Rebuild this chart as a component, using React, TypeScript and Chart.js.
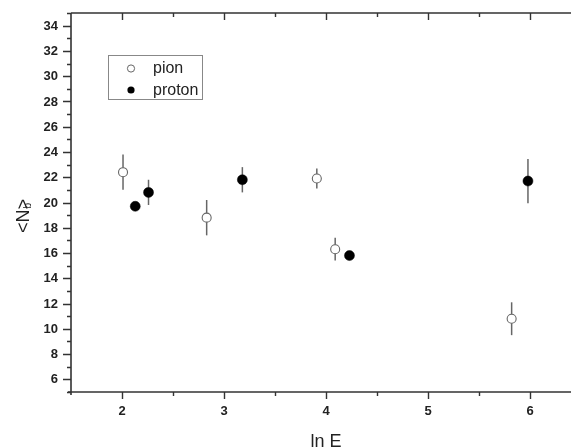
import React, { useEffect, useRef } from "react";
import { Chart, registerables } from "chart.js";

Chart.register(...registerables);

const pionX = [2.01, 2.83, 3.91, 4.09, 5.82];
const pionY = [22.4, 18.8, 21.9, 16.3, 10.8];
const pionErr = [1.4, 1.4, 0.8, 0.9, 1.3];

const protonX = [2.13, 2.26, 3.18, 4.23, 5.98];
const protonY = [19.7, 20.8, 21.8, 15.8, 21.7];
const protonErr = [0.3, 1.0, 1.0, 0.3, 1.75];

const xTickLabels = [2, 3, 4, 5, 6];
const xMinorTicks = [2.5, 3.5, 4.5, 5.5];
const yTickLabels = [6, 8, 10, 12, 14, 16, 18, 20, 22, 24, 26, 28, 30, 32, 34];
const yMinorTicks = [5, 7, 9, 11, 13, 15, 17, 19, 21, 23, 25, 27, 29, 31, 33, 35];

const seriesNames = ["pion", "proton"];
const xTitle = "ln E";
const FONT = "'Liberation Sans', Arial, sans-serif";
const AXIS = "#333333";

const errorBarPlugin = {
  id: "errorBars",
  beforeDatasetsDraw(chart: any) {
    const ctx = chart.ctx;
    const xs = chart.scales.x;
    const ys = chart.scales.y;
    const sets = [
      { x: pionX, y: pionY, e: pionErr },
      { x: protonX, y: protonY, e: protonErr },
    ];
    ctx.save();
    ctx.strokeStyle = "#666666";
    ctx.lineWidth = 1.5;
    sets.forEach((s) => {
      s.x.forEach((xv, i) => {
        const px = xs.getPixelForValue(xv);
        ctx.beginPath();
        ctx.moveTo(px, ys.getPixelForValue(s.y[i] + s.e[i]));
        ctx.lineTo(px, ys.getPixelForValue(s.y[i] - s.e[i]));
        ctx.stroke();
      });
    });
    ctx.restore();
  },
};

const axesPlugin = {
  id: "customAxes",
  beforeDraw(chart: any) {
    const ctx = chart.ctx;
    ctx.save();
    ctx.fillStyle = "#ffffff";
    ctx.fillRect(0, 0, chart.width, chart.height);
    ctx.restore();
  },
  afterDraw(chart: any) {
    const ctx = chart.ctx;
    const xs = chart.scales.x;
    const ys = chart.scales.y;
    const a = chart.chartArea;
    ctx.save();
    ctx.strokeStyle = AXIS;
    ctx.lineWidth = 1.6;
    // frame
    ctx.beginPath();
    ctx.moveTo(a.left, a.top);
    ctx.lineTo(a.right, a.top);
    ctx.moveTo(a.left, a.top);
    ctx.lineTo(a.left, a.bottom + 3);
    ctx.moveTo(a.left - 3, a.bottom);
    ctx.lineTo(a.right, a.bottom);
    ctx.moveTo(a.right, a.top);
    ctx.lineTo(a.right, a.bottom);
    ctx.stroke();

    ctx.lineWidth = 1.4;
    ctx.beginPath();
    // x ticks bottom (outward) and top (inward)
    xTickLabels.forEach((v) => {
      const px = Math.round(xs.getPixelForValue(v)) + 0.5;
      ctx.moveTo(px, a.bottom);
      ctx.lineTo(px, a.bottom + 7);
      ctx.moveTo(px, a.top);
      ctx.lineTo(px, a.top + 7);
    });
    xMinorTicks.forEach((v) => {
      const px = Math.round(xs.getPixelForValue(v)) + 0.5;
      ctx.moveTo(px, a.bottom);
      ctx.lineTo(px, a.bottom + 4);
      ctx.moveTo(px, a.top);
      ctx.lineTo(px, a.top + 4);
    });
    // y ticks left (outward)
    yTickLabels.forEach((v) => {
      const py = Math.round(ys.getPixelForValue(v)) + 0.5;
      ctx.moveTo(a.left, py);
      ctx.lineTo(a.left - 8, py);
    });
    yMinorTicks.forEach((v) => {
      const py = Math.round(ys.getPixelForValue(v)) + 0.5;
      ctx.moveTo(a.left, py);
      ctx.lineTo(a.left - 4, py);
    });
    ctx.stroke();

    // tick labels
    ctx.fillStyle = "#222222";
    ctx.font = `bold 13px ${FONT}`;
    ctx.textAlign = "center";
    ctx.textBaseline = "middle";
    xTickLabels.forEach((v) => {
      ctx.fillText(String(v), xs.getPixelForValue(v), a.bottom + 19);
    });
    ctx.textAlign = "right";
    yTickLabels.forEach((v) => {
      ctx.fillText(String(v), a.left - 13, ys.getPixelForValue(v) + 0.5);
    });

    // x title
    ctx.font = `18px ${FONT}`;
    ctx.textAlign = "center";
    ctx.textBaseline = "alphabetic";
    ctx.fillText(xTitle, xs.getPixelForValue(4), 447);

    // y title "<N_b>" (Origin style: subscript tucked under ">")
    ctx.save();
    ctx.translate(28.5, 216);
    ctx.rotate(-Math.PI / 2);
    ctx.font = `18px ${FONT}`;
    const part1 = "<N";
    const part2 = ">";
    const w1 = ctx.measureText(part1).width;
    const w2 = ctx.measureText(part2).width;
    const start = -(w1 + w2) / 2;
    ctx.textAlign = "left";
    ctx.fillText(part1, start, 0);
    ctx.fillText(part2, start + w1, 0);
    ctx.font = `10px ${FONT}`;
    ctx.fillText("b", start + w1 + 1, 2);
    ctx.restore();

    // legend
    ctx.strokeStyle = "#888888";
    ctx.lineWidth = 1;
    ctx.strokeRect(108.5, 55.5, 94, 44);
    const rows = [68.5, 90];
    ctx.font = `16px ${FONT}`;
    ctx.textAlign = "left";
    ctx.textBaseline = "middle";
    seriesNames.forEach((name, i) => {
      ctx.beginPath();
      ctx.arc(131, rows[i], 3.6, 0, Math.PI * 2);
      if (i === 0) {
        ctx.fillStyle = "#ffffff";
        ctx.fill();
        ctx.strokeStyle = "#666666";
        ctx.lineWidth = 1;
        ctx.stroke();
      } else {
        ctx.fillStyle = "#000000";
        ctx.fill();
      }
      ctx.fillStyle = "#222222";
      ctx.fillText(name, 153, rows[i] + 0.5);
    });
    ctx.restore();
  },
};

export default function App() {
  const ref = useRef<HTMLCanvasElement | null>(null);
  useEffect(() => {
    if (!ref.current) return;
    const chart = new Chart(ref.current, {
      type: "scatter",
      data: {
        datasets: [
          {
            label: seriesNames[0],
            data: pionX.map((x, i) => ({ x, y: pionY[i] })),
            pointRadius: 4.5,
            pointBackgroundColor: "#ffffff",
            pointBorderColor: "#666666",
            pointBorderWidth: 1.1,
          },
          {
            label: seriesNames[1],
            data: protonX.map((x, i) => ({ x, y: protonY[i] })),
            pointRadius: 5,
            pointBackgroundColor: "#000000",
            pointBorderColor: "#000000",
            pointBorderWidth: 0.5,
          },
        ],
      },
      options: {
        animation: false,
        responsive: false,
        devicePixelRatio: 1,
        layout: { padding: { left: 71, top: 13, right: 9, bottom: 55 } },
        scales: {
          x: { type: "linear", min: 1.5, max: 6.5, display: false },
          y: { type: "linear", min: 5, max: 35, display: false },
        },
        plugins: {
          legend: { display: false },
          tooltip: { enabled: false },
        },
      },
      plugins: [errorBarPlugin, axesPlugin],
    });
    return () => chart.destroy();
  }, []);
  return (
    <div
      style={{
        position: "absolute",
        left: 0,
        top: 0,
        width: 571,
        height: 447,
        overflow: "hidden",
        background: "#fff",
      }}
    >
      <canvas ref={ref} width={590} height={447} style={{ display: "block" }} />
    </div>
  );
}
